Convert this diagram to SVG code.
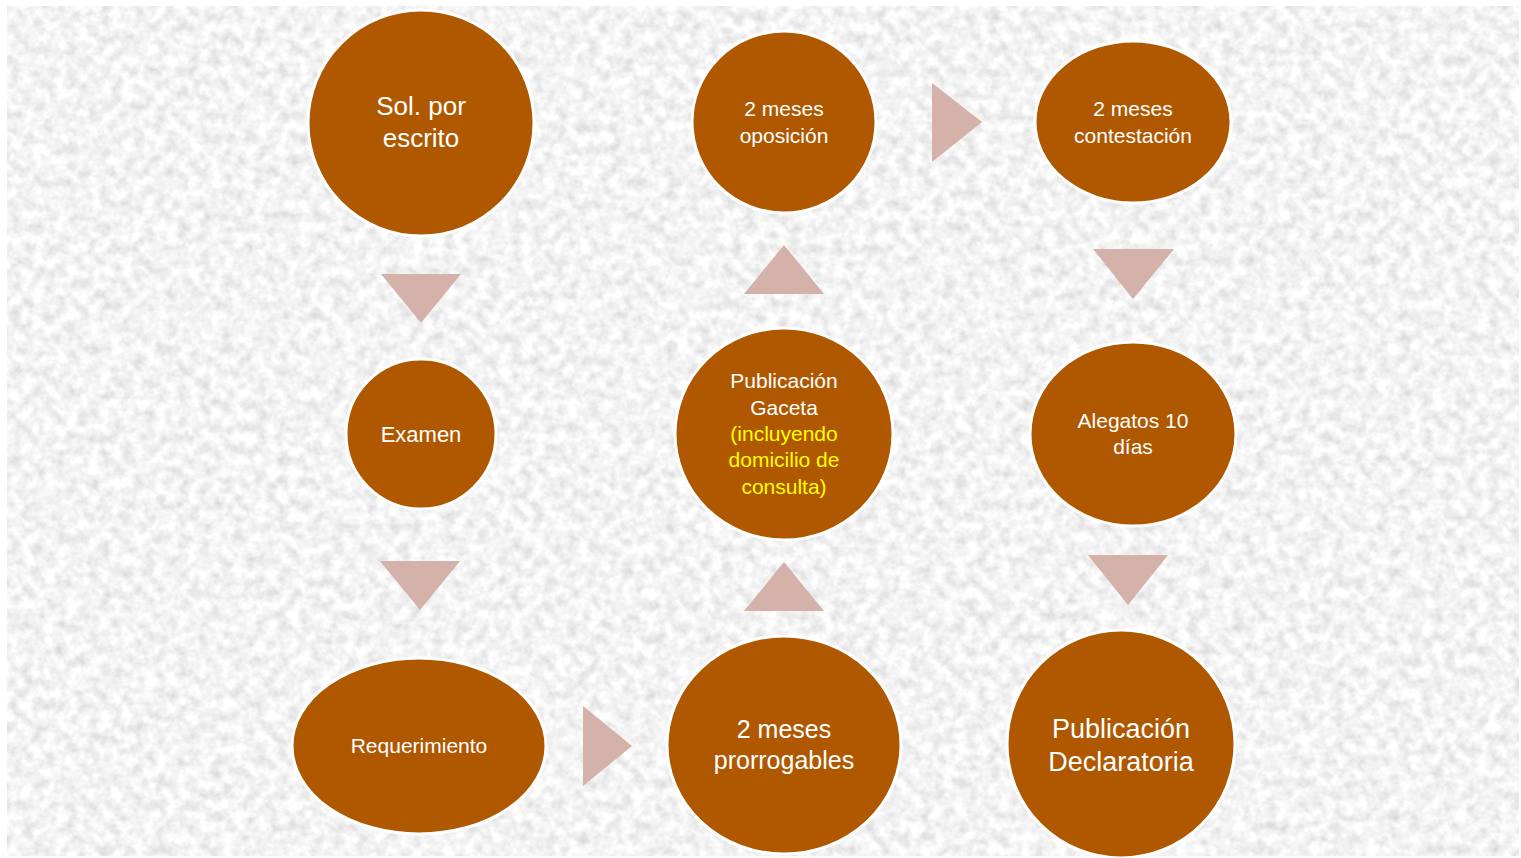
<svg xmlns="http://www.w3.org/2000/svg" width="1521" height="858" viewBox="0 0 1521 858">
  <defs>
    <filter id="tex" x="7" y="6" width="1512" height="850" filterUnits="userSpaceOnUse">
      <feTurbulence type="fractalNoise" baseFrequency="0.09" numOctaves="3" seed="7" result="n"/>
      <feColorMatrix in="n" type="matrix" values="0.5 0 0 0 0.65  0.5 0 0 0 0.65  0.5 0 0 0 0.65  0 0 0 0 1"/>
    </filter>
    <style>
      .node { fill: #B05800; stroke: #FFFFFF; stroke-width: 3; }
      .arrow { fill: #D4B1A9; }
      .t { font-family: "Liberation Sans", Arial, sans-serif; fill: #FFFFFF; text-anchor: middle; }
      .y { fill: #FFFF00; }
    </style>
  </defs>
  <rect x="0" y="0" width="1521" height="858" fill="#FFFFFF"/>
  <rect x="7" y="6" width="1512" height="850" fill="#E9E9E9" filter="url(#tex)"/>

  <g id="connectors">
    <polygon class="arrow" points="381,274 461,274 421,323"/>
    <polygon class="arrow" points="380,561 460,561 420,610"/>
    <polygon class="arrow" points="583,706 583,786 632,746"/>
    <polygon class="arrow" points="744,611 824,611 784,562"/>
    <polygon class="arrow" points="744,294 824,294 784,245"/>
    <polygon class="arrow" points="932,83 932,162 982,122"/>
    <polygon class="arrow" points="1093,249 1174,249 1133,299"/>
    <polygon class="arrow" points="1088,555 1168,555 1128,605"/>
  </g>

  <g id="n1">
    <ellipse class="node" cx="421" cy="123" rx="113" ry="113"/>
    <text class="t" font-size="26"><tspan x="421" y="115">Sol. por</tspan><tspan x="421" y="147">escrito</tspan></text>
  </g>
  <g id="n2">
    <ellipse class="node" cx="421" cy="434" rx="75" ry="75"/>
    <text class="t" font-size="22" x="421" y="442">Examen</text>
  </g>
  <g id="n3">
    <ellipse class="node" cx="419" cy="746" rx="127" ry="88"/>
    <text class="t" font-size="21" x="419" y="753">Requerimiento</text>
  </g>
  <g id="n4">
    <ellipse class="node" cx="784" cy="745" rx="117" ry="109"/>
    <text class="t" font-size="25"><tspan x="784" y="738">2 meses</tspan><tspan x="784" y="769">prorrogables</tspan></text>
  </g>
  <g id="n5">
    <ellipse class="node" cx="784" cy="434" rx="109" ry="106"/>
    <text class="t" font-size="21"><tspan x="784" y="388">Publicación</tspan><tspan x="784" y="415">Gaceta</tspan><tspan class="y" x="784" y="441">(incluyendo</tspan><tspan class="y" x="784" y="467">domicilio de</tspan><tspan class="y" x="784" y="494">consulta)</tspan></text>
  </g>
  <g id="n6">
    <ellipse class="node" cx="784" cy="122" rx="92" ry="91"/>
    <text class="t" font-size="21"><tspan x="784" y="116">2 meses</tspan><tspan x="784" y="143">oposición</tspan></text>
  </g>
  <g id="n7">
    <ellipse class="node" cx="1133" cy="122" rx="98" ry="81"/>
    <text class="t" font-size="21"><tspan x="1133" y="116">2 meses</tspan><tspan x="1133" y="143">contestación</tspan></text>
  </g>
  <g id="n8">
    <ellipse class="node" cx="1133" cy="434" rx="103" ry="92"/>
    <text class="t" font-size="21"><tspan x="1133" y="428">Alegatos 10</tspan><tspan x="1133" y="454">días</tspan></text>
  </g>
  <g id="n9">
    <ellipse class="node" cx="1121" cy="744" rx="114" ry="114"/>
    <text class="t" font-size="27"><tspan x="1121" y="738">Publicación</tspan><tspan x="1121" y="771">Declaratoria</tspan></text>
  </g>
</svg>
